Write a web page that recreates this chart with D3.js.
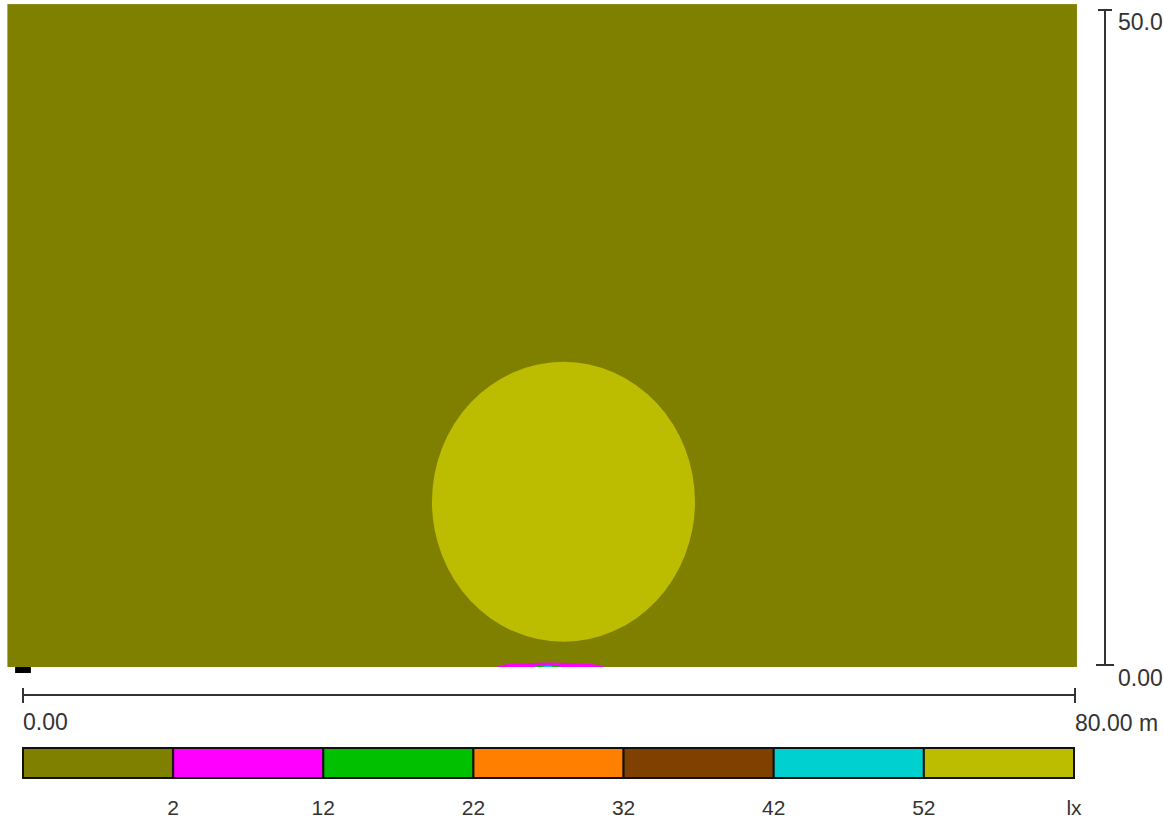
<!DOCTYPE html>
<html><head><meta charset="utf-8">
<script src="https://cdn.jsdelivr.net/npm/d3@7"></script>
<style>body{margin:0;background:#fff;font-family:"Liberation Sans",Arial,sans-serif}</style>
</head><body><svg id="c" width="1163" height="821"></svg>
<script>
// Illuminance levels (lx) and their false colours
const thresholds = [2, 12, 22, 32, 42, 52];
const levelColors = ["#808000", "#ff00ff", "#00c000", "#ff8000", "#804000", "#00d0d0", "#bcbd00"];
const unitLabel = "lx";
// Calculation area (m)
const areaX = [-1.2, 80.15];
const areaY = [-0.23, 50.45];
const xDomain = [0, 80];
const yDomain = [0, 50];
const xTickLabels = ["0.00", "80.00 m"];
const yTickLabels = ["0.00", "50.00"];
// Iso-regions as ellipses: [cx, cy, rx, ry, level index]
const regions = [
  [41.1, 12.4, 10.0, 10.7, 6],
  [40.1, -0.23, 4.05, 0.34, 1],
  [39.9, -0.23, 1.0, 0.12, 2],
  [39.9, -0.23, 0.35, 0.1, 5]
];

const svg = d3.select("#c");
const x = d3.scaleLinear().domain(xDomain).range([23, 1075]);
const y = d3.scaleLinear().domain(yDomain).range([664, 10]);
const lvl = d3.scaleOrdinal().domain(d3.range(levelColors.length)).range(levelColors);

// small black marker at origin
svg.append("rect").attr("x", x(-0.6)).attr("y", y(-0.23)).attr("width", x(0.6)-x(-0.6)).attr("height", 6).attr("fill", "#000");

svg.append("clipPath").attr("id","clip").append("rect")
  .attr("x", x(areaX[0])).attr("y", y(areaY[1]))
  .attr("width", x(areaX[1]) - x(areaX[0])).attr("height", y(areaY[0]) - y(areaY[1]));

const g = svg.append("g").attr("clip-path","url(#clip)");
g.append("rect")
  .attr("x", x(areaX[0])).attr("y", y(areaY[1]))
  .attr("width", x(areaX[1]) - x(areaX[0])).attr("height", y(areaY[0]) - y(areaY[1]))
  .attr("fill", lvl(0));
g.selectAll("ellipse").data(regions).join("ellipse")
  .attr("cx", d => x(d[0])).attr("cy", d => y(d[1]))
  .attr("rx", d => x(d[2]) - x(0)).attr("ry", d => y(0) - y(d[3]))
  .attr("fill", d => lvl(d[4]));

const txt = "#333";
const fs = 23;
// x scale bar
const xa = svg.append("g").attr("stroke", "#333").attr("stroke-width", 2);
xa.append("line").attr("x1", x(0)).attr("x2", x(80)).attr("y1", 695).attr("y2", 695);
xa.append("line").attr("x1", x(0)).attr("x2", x(0)).attr("y1", 688).attr("y2", 703);
xa.append("line").attr("x1", x(80)).attr("x2", x(80)).attr("y1", 688).attr("y2", 703);
svg.append("text").attr("x", x(0)).attr("y", 730).attr("font-size", fs).attr("fill", txt).text(xTickLabels[0]);
svg.append("text").attr("x", x(80)).attr("y", 731).attr("font-size", fs).attr("fill", txt).text(xTickLabels[1]);

// y scale bar
const ya = svg.append("g").attr("stroke", "#333").attr("stroke-width", 2);
ya.append("line").attr("x1", 1105).attr("x2", 1105).attr("y1", y(50)).attr("y2", y(0));
ya.append("line").attr("x1", 1098).attr("x2", 1112).attr("y1", y(50)).attr("y2", y(50));
ya.append("line").attr("x1", 1096).attr("x2", 1114).attr("y1", y(0)+1).attr("y2", y(0)+1);
svg.append("text").attr("x", 1118).attr("y", 30).attr("font-size", fs).attr("fill", txt).text(yTickLabels[1]);
svg.append("text").attr("x", 1118).attr("y", 686).attr("font-size", fs).attr("fill", txt).text(yTickLabels[0]);

// legend
const lx = d3.scaleLinear().domain([0, levelColors.length]).range([23, 1074]);
const leg = svg.append("g");
leg.selectAll("rect").data(levelColors).join("rect")
  .attr("x", (d,i) => lx(i)).attr("y", 748).attr("width", lx(1)-lx(0)).attr("height", 30)
  .attr("fill", d => d).attr("stroke", "#111").attr("stroke-width", 2);
leg.selectAll("text.t").data(thresholds).join("text").attr("class","t")
  .attr("x", (d,i) => lx(i+1)).attr("y", 815).attr("text-anchor", "middle")
  .attr("font-size", 21).attr("fill", txt).text(d => d);
leg.append("text").attr("x", lx(levelColors.length)).attr("y", 815).attr("text-anchor", "middle")
  .attr("font-size", 21).attr("fill", txt).text(unitLabel);
</script></body></html>
